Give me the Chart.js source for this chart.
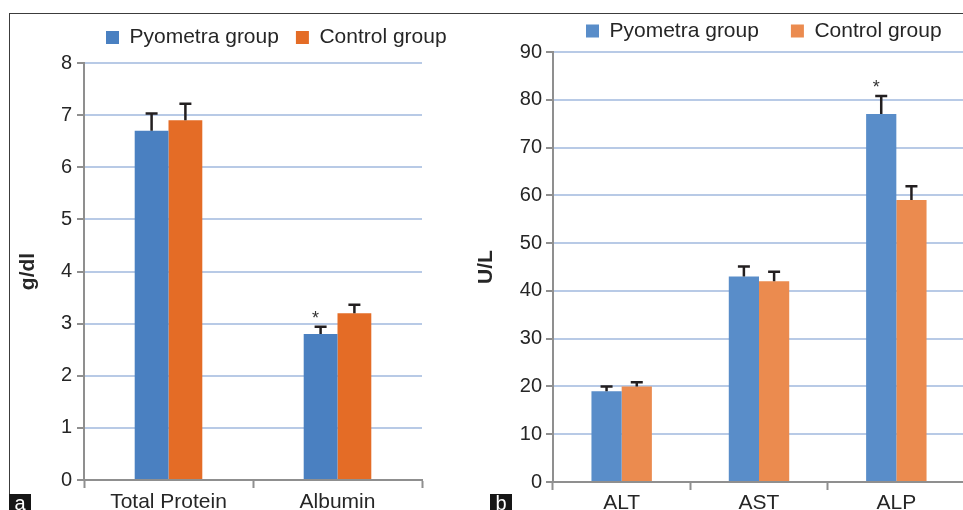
<!DOCTYPE html>
<html>
<head>
<meta charset="utf-8">
<script src="https://cdn.jsdelivr.net/npm/chart.js@4.4.1/dist/chart.umd.min.js"></script>
<style>
  html, body { margin: 0; padding: 0; background: #fff; overflow: hidden; width: 963px; height: 510px; }
  #frame { position: absolute; left: 9px; top: 13px; width: 1000px; height: 600px;
           border-top: 1px solid #3c3c3c; border-left: 1px solid #3c3c3c; }
  canvas { position: absolute; top: 0; }
  #proteinChart { left: 0; }
  #enzymeChart { left: 470px; }
  .tag { position: absolute; width: 22px; height: 20px; background: #161616; color: #fff;
         font: 20px 'Liberation Sans', Arial, sans-serif; line-height: 19px; text-align: center; }
</style>
</head>
<body>
<div id="frame"></div>
<canvas id="proteinChart" width="480" height="510"></canvas>
<canvas id="enzymeChart" width="495" height="510"></canvas>
<div class="tag" style="left:9px;top:494px">a</div>
<div class="tag" style="left:490px;top:494px">b</div>

<script>
// Panel a: serum proteins (g/dl)
const proteinCategories = ['Total Protein', 'Albumin'];
const proteinPyometra   = [6.7, 2.8];
const proteinPyometraSD = [0.33, 0.14];
const proteinControl    = [6.9, 3.2];
const proteinControlSD  = [0.32, 0.16];
const proteinMarks      = ['', '*'];
const proteinAxis       = { min: 0, max: 8, step: 1 };

// Panel b: liver enzymes (U/L)
const enzymeCategories = ['ALT', 'AST', 'ALP'];
const enzymePyometra   = [19, 43, 77];
const enzymePyometraSD = [1.0, 2.1, 3.8];
const enzymeControl    = [20, 42, 59];
const enzymeControlSD  = [0.9, 2.0, 2.9];
const enzymeMarks      = ['', '', '*'];
const enzymeAxis       = { min: 0, max: 90, step: 10 };

const seriesNames = ['Pyometra group', 'Control group'];

Chart.defaults.font.family = "'Liberation Sans', Arial, sans-serif";
Chart.defaults.color = '#262626';

const AXIS_GREY = '#8f8f8f';
const GRID_BLUE = '#b8cae6';
const LEGEND_FONT = 21;

// Places the legend row at a fixed spot (first swatch left edge x, row centre y)
const legendPlace = {
  id: 'legendPlace',
  afterLayout(chart, args, opts) {
    const lg = chart.legend;
    if (!lg) return;
    const pad = opts.pad, fs = opts.fs;
    const w = lg.right - lg.left;
    lg.left = opts.x - pad;
    lg.right = lg.left + w;
    lg.top = opts.y - pad - fs / 2;
    lg.bottom = lg.top + fs + 2 * pad + 10;
  }
};

// Upper error whiskers with caps, plus significance marks
const errorBars = {
  id: 'errorBars',
  afterDatasetsDraw(chart, args, opts) {
    const ctx = chart.ctx;
    const yScale = chart.scales.y;
    ctx.save();
    chart.data.datasets.forEach((ds, di) => {
      const meta = chart.getDatasetMeta(di);
      meta.data.forEach((bar, i) => {
        const top = yScale.getPixelForValue(ds.data[i] + ds.errors[i]);
        ctx.strokeStyle = opts.color;
        ctx.lineWidth = opts.width;
        ctx.beginPath();
        ctx.moveTo(bar.x, bar.y);
        ctx.lineTo(bar.x, top);
        ctx.moveTo(bar.x - opts.cap / 2, top);
        ctx.lineTo(bar.x + opts.cap / 2, top);
        ctx.stroke();
        const mark = ds.marks ? ds.marks[i] : '';
        if (mark) {
          ctx.fillStyle = '#333';
          ctx.font = "18px 'Liberation Sans', Arial, sans-serif";
          ctx.textAlign = 'center';
          ctx.textBaseline = 'middle';
          ctx.fillText(mark, bar.x - 5, top - 8);
        }
      });
    });
    ctx.restore();
  }
};

function buildChart(canvasId, cfg) {
  // legend box height as laid out: font + padding + 10
  const legendH = Math.min(LEGEND_FONT + cfg.legendPad + 10, cfg.plotTop);
  return new Chart(document.getElementById(canvasId), {
    type: 'bar',
    data: {
      labels: cfg.labels,
      datasets: [
        { label: seriesNames[0], data: cfg.a, errors: cfg.aErr, marks: cfg.marks,
          backgroundColor: cfg.colors[0], categoryPercentage: cfg.catPct, barPercentage: 1 },
        { label: seriesNames[1], data: cfg.b, errors: cfg.bErr,
          backgroundColor: cfg.colors[1], categoryPercentage: cfg.catPct, barPercentage: 1 }
      ]
    },
    options: {
      responsive: false,
      animation: false,
      events: [],
      layout: { padding: { top: cfg.plotTop - legendH, left: 0, right: cfg.padRight, bottom: 0 } },
      plugins: {
        legend: {
          position: 'top', align: 'start', maxHeight: legendH,
          labels: { boxWidth: 13, boxHeight: 13, padding: cfg.legendPad,
                    color: '#262626', font: { size: LEGEND_FONT } }
        },
        legendPlace: { x: cfg.legendX, y: cfg.legendY, pad: cfg.legendPad, fs: LEGEND_FONT },
        tooltip: { enabled: false },
        errorBars: { color: '#231f20', width: 2.5, cap: 12 }
      },
      scales: {
        x: {
          grid: { display: true, offset: true, drawOnChartArea: false, drawTicks: true,
                  tickLength: 8, tickColor: AXIS_GREY, tickWidth: 2 },
          border: { display: true, color: AXIS_GREY, width: 2 },
          ticks: { font: { size: 21 }, color: '#262626', padding: cfg.xPad,
                   maxRotation: 0, autoSkip: false },
          afterFit: s => { s.height = cfg.xHeight; }
        },
        y: {
          min: cfg.axis.min, max: cfg.axis.max,
          grid: {
            color: c => (c.tick && c.tick.value === 0) ? 'rgba(0,0,0,0)' : GRID_BLUE,
            lineWidth: 2, tickLength: 7, tickColor: AXIS_GREY, tickWidth: 2
          },
          border: { display: true, color: AXIS_GREY, width: 2 },
          ticks: { stepSize: cfg.axis.step, font: { size: 20 }, color: '#262626', padding: cfg.tickPad },
          title: { display: true, text: cfg.title, color: '#262626',
                   font: { size: 21, weight: 'bold' }, padding: { top: cfg.titlePad, bottom: 0 } },
          afterFit: s => { s.width = cfg.yWidth; }
        }
      }
    },
    plugins: [legendPlace, errorBars]
  });
}

buildChart('proteinChart', {
  labels: proteinCategories,
  a: proteinPyometra, aErr: proteinPyometraSD, marks: proteinMarks,
  b: proteinControl, bErr: proteinControlSD,
  colors: ['#4a80c1', '#e46c26'],
  catPct: 0.4, axis: proteinAxis, title: 'g/dl',
  plotTop: 63, padRight: 58, xHeight: 30, yWidth: 84, tickPad: 5, titlePad: 16, xPad: 2,
  legendX: 106, legendY: 37.5, legendPad: 17
});

buildChart('enzymeChart', {
  labels: enzymeCategories,
  a: enzymePyometra, aErr: enzymePyometraSD, marks: enzymeMarks,
  b: enzymeControl, bErr: enzymeControlSD,
  colors: ['#598dc9', '#eb8b4f'],
  catPct: 0.44, axis: enzymeAxis, title: 'U/L',
  plotTop: 52, padRight: 0, xHeight: 28, yWidth: 83, tickPad: 4, titlePad: 4, xPad: 1,
  legendX: 116, legendY: 31, legendPad: 32
});
</script>
</body>
</html>
